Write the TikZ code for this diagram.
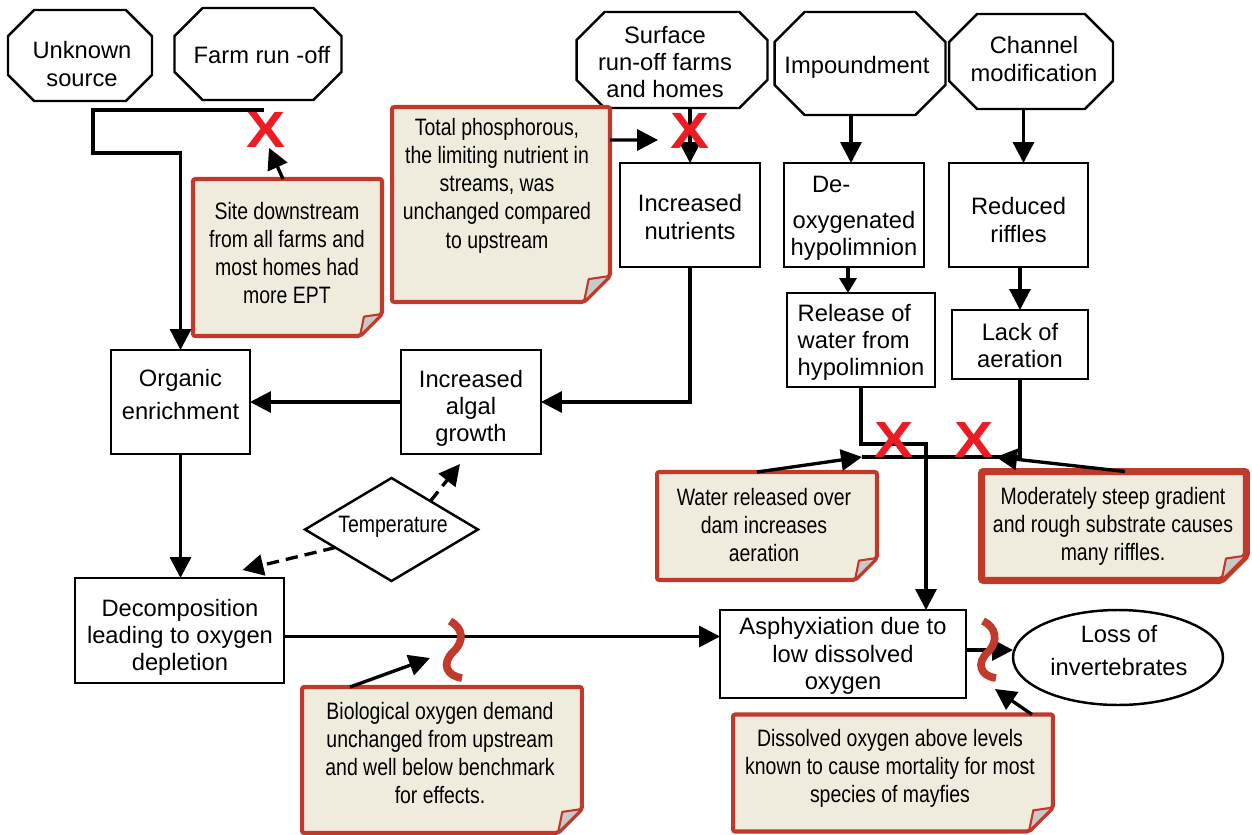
\documentclass[tikz,border=0pt]{standalone}
\usepackage{fontspec}
\setmainfont{Liberation Sans}
\newfontfamily\narrowfont{Liberation Sans}[FakeStretch=0.82]
\usetikzlibrary{arrows.meta,shapes.geometric,calc}
\definecolor{notefill}{HTML}{F0ECDD}
\definecolor{noteline}{HTML}{C0392B}
\definecolor{foldgray}{HTML}{C8C8C8}
\definecolor{xred}{HTML}{ED1C24}
\definecolor{sqred}{HTML}{C23A2C}
\pgfdeclarelayer{front}
\pgfsetlayers{main,front}
\newcommand\mainsize{\fontsize{13.5}{15.5}\selectfont}
\newcommand\notesize{\narrowfont\fontsize{13.5}{16.1}\selectfont}
% octagon drawn round a frame node: #1 node, #2 corner cut
\newcommand\octbox[2]{%
  \draw[line width=1.4pt, line join=miter]
    ([xshift=#2]#1.north west) -- ([xshift=-#2]#1.north east)
    -- ([yshift=-#2]#1.north east) -- ([yshift=#2]#1.south east)
    -- ([xshift=-#2]#1.south east) -- ([xshift=#2]#1.south west)
    -- ([yshift=#2]#1.south west) -- ([yshift=-#2]#1.north west) -- cycle;}
% sticky note with a folded corner: #1 node, #2 fold size, #3 border width
\newcommand\notebox[3]{%
  \draw[draw=noteline, fill=notefill, line width=#3, rounded corners=1.2pt]
    (#1.north west) -- (#1.north east) -- ([yshift=#2]#1.south east)
    -- ([xshift=-#2]#1.south east) -- (#1.south west) -- cycle;
  \draw[draw=noteline, fill=foldgray, line width=1.2pt, line join=round]
    ([xshift=-#2]#1.south east) -- ([xshift=-0.82*#2, yshift=0.88*#2]#1.south east)
    -- ([yshift=#2]#1.south east) -- cycle;}
\tikzset{
  frame/.style={inner sep=0pt, outer sep=0pt},
  box/.style={draw, line width=1.4pt, inner sep=0pt, outer sep=0pt},
  lbl/.style={inner sep=0pt, align=center, font=\mainsize},
  notetext/.style={inner sep=0pt, align=center, font=\notesize},
  xmark/.style={inner sep=0pt, text=xred, font=\fontsize{29}{29}\selectfont\bfseries},
  conn/.style={line width=1.9pt},
  arr/.style={-{Triangle[length=0.42cm,width=0.42cm]}},
  sarr/.style={-{Triangle[length=0.3cm,width=0.34cm]}},
  dashline/.style={dash pattern=on 7pt off 4pt},
  squig/.style={draw=sqred, line width=4.4pt, line cap=butt}
}
\begin{document}
\begin{tikzpicture}[x=0.02cm, y=-0.02cm]
\useasboundingbox (0,0) rectangle (1252,835);

% ---------- sources (octagons)
\node[frame, minimum width=2.88cm, minimum height=1.82cm] (unk) at (80,55.5) {};
\node[frame, minimum width=3.34cm, minimum height=1.84cm] (farm) at (258,54) {};
\node[frame, minimum width=3.82cm, minimum height=1.92cm] (surf) at (672,60) {};
\node[frame, minimum width=3.42cm, minimum height=2.06cm] (imp) at (860,63.5) {};
\node[frame, minimum width=3.28cm, minimum height=1.90cm] (chan) at (1031,61.5) {};
\octbox{unk}{0.52cm}
\octbox{farm}{0.56cm}
\octbox{surf}{0.56cm}
\octbox{imp}{0.6cm}
\octbox{chan}{0.56cm}
\node[lbl] (unk-t) at (82,64) {Unknown\\source};
\node[lbl] (farm-t) at (262,55) {Farm run -off};
\node[lbl] (surf-t) at (665,62) {Surface\\run-off farms\\and homes};
\node[lbl] (imp-t) at (857,67) {Impoundment};
\node[lbl] (chan-t) at (1034,59) {Channel\\modification};

% ---------- process boxes
\node[box, minimum width=2.80cm, minimum height=2.08cm] (nutr) at (690,215) {};
\node[box, minimum width=2.80cm, minimum height=2.08cm] (deox) at (854,215) {};
\node[box, minimum width=2.78cm, minimum height=2.08cm] (riff) at (1018.5,215) {};
\node[box, minimum width=2.96cm, minimum height=1.88cm] (rel) at (861,340) {};
\node[box, minimum width=2.72cm, minimum height=1.38cm] (lack) at (1020,344.5) {};
\node[box, minimum width=2.78cm, minimum height=2.08cm] (org) at (180.5,402) {};
\node[box, minimum width=2.80cm, minimum height=2.08cm] (alg) at (471,402) {};
\node[box, minimum width=4.18cm, minimum height=2.10cm] (dec) at (179.5,630.5) {};
\node[box, minimum width=4.92cm, minimum height=1.76cm] (asph) at (843,654) {};
\node[box, ellipse, minimum width=4.2cm, minimum height=1.9cm] (loss) at (1118,657.5) {};

\node[lbl] (nutr-t) at (690,217) {Increased\\nutrients};
\node[lbl] (deox-t) at (854,218.5) {De-\hspace*{26pt}\\[5pt]oxygenated\\hypolimnion};
\node[lbl] (riff-t) at (1018.5,220) {Reduced\\riffles};
\node[lbl, align=left] (rel-t) at (861,342.5) {Release of\\water from\\hypolimnion};
\node[lbl] (lack-t) at (1020,345.5) {Lack of\\aeration};
\node[lbl] (org-t) at (180.5,394.5) {Organic\\[3pt]enrichment};
\node[lbl] (alg-t) at (471,408.5) {Increased\\algal\\growth};
\node[lbl] (dec-t) at (180,637.5) {Decomposition\\leading to oxygen\\depletion};
\node[lbl] (asph-t) at (843,656) {Asphyxiation due to\\low dissolved\\oxygen};
\node[lbl] (loss-t) at (1119,650.5) {Loss of\\[3pt]invertebrates};

% temperature diamond
\node[frame, minimum width=3.46cm, minimum height=2.06cm] (temp) at (391.5,529.5) {};
\draw[line width=1.4pt] (temp.north) -- (temp.east) -- (temp.south) -- (temp.west) -- cycle;
\node[notetext] (temp-t) at (393,527) {Temperature};

% ---------- notes
\node[frame, minimum width=3.78cm, minimum height=3.14cm] (nsite) at (287.5,257.5) {};
\node[frame, minimum width=4.36cm, minimum height=3.90cm] (nphos) at (501,204.5) {};
\node[frame, minimum width=4.40cm, minimum height=2.16cm] (nwater) at (767,526) {};
\node[frame, minimum width=5.30cm, minimum height=2.18cm] (nmod) at (1114,526) {};
\node[frame, minimum width=5.60cm, minimum height=2.92cm] (nbod) at (442,760) {};
\node[frame, minimum width=6.40cm, minimum height=2.34cm] (ndo) at (893,773) {};
\notebox{nsite}{0.44cm}{2.3pt}
\notebox{nphos}{0.52cm}{2.3pt}
\notebox{nwater}{0.44cm}{2.3pt}
\notebox{nmod}{0.5cm}{4pt}
\notebox{nbod}{0.48cm}{2.3pt}
\notebox{ndo}{0.48cm}{2.3pt}
\node[notetext] (nsite-t) at (287,253) {Site downstream\\from all farms and\\most homes had\\more EPT};
\node[notetext] (nphos-t) at (497,185.5) {Total phosphorous,\\the limiting nutrient in\\streams, was\\unchanged compared\\to upstream};
\node[notetext] (nwater-t) at (764,525) {Water released over\\dam increases\\aeration};
\node[notetext] (nmod-t) at (1113,526.5) {Moderately steep gradient\\and rough substrate causes\\many riffles.};
\node[notetext] (nbod-t) at (440,753) {Biological oxygen demand\\unchanged from upstream\\and well below benchmark\\for effects.};
\node[notetext] (ndo-t) at (890,768.5) {Dissolved oxygen above levels\\known to cause mortality for most\\species of mayfies};

% ---------- refuted links (red crosses, on top)
\begin{pgfonlayer}{front}
\node[xmark] (xfarm) at (266,130) {\scalebox{1.15}[1]{X}};
\node[xmark] (xsurf) at (690,131) {\scalebox{1.15}[1]{X}};
\node[xmark] (xrel) at (894,440) {\scalebox{1.15}[1]{X}};
\node[xmark] (xlack) at (974,440) {\scalebox{1.15}[1]{X}};
\end{pgfonlayer}

% ---------- junction points
\coordinate (jfarm) at (264,110);
\coordinate (junk) at (93,110);
\coordinate (jbend) at (93,153);
\coordinate (jrel) at (926,444);
\coordinate (jlow) at (862,457);
\coordinate (jmod) at (996,457);
\coordinate (bodtip) at (430,658);
\coordinate (dotip) at (995,689);

% ---------- connectors
\draw[conn, arr] (jfarm) -- (junk) -- (jbend) -| (org.north);
\draw[conn, arr] ([xshift=-0.09cm]nsite.north) -- ([xshift=0.06cm]xfarm.south);
\draw[conn, arr] ([yshift=-0.66cm]nphos.north east) -- ([xshift=-0.24cm,yshift=-0.18cm]xsurf.west);
\draw[conn, arr] (nutr.north |- surf.south) -- (nutr.north);
\draw[conn, arr] (nutr.south) |- (alg.east);
\draw[conn, arr] (alg.west) -- (org.east);
\draw[conn, arr] (org.south) -- (org.south |- dec.north);
\draw[conn, arr, dashline] ($(temp.north)!0.45!(temp.east)$) -- ([xshift=-0.22cm,yshift=-0.2cm]alg.south);
\draw[conn, arr, dashline] ($(temp.west)!0.35!(temp.south)$) -- ([xshift=1.26cm,yshift=0.16cm]dec.north);
\draw[conn, arr] ([yshift=-0.12cm]dec.east) -- ([yshift=-0.12cm]dec.east -| asph.west);

\coordinate (impx) at ([xshift=-0.06cm]deox.north);
\draw[conn, arr] (impx |- imp.south) -- (impx);
\coordinate (chanx) at ([xshift=0.1cm]riff.north);
\draw[conn, arr] (chanx |- chan.south) -- (chanx);
\coordinate (deoxx) at ([xshift=-0.12cm]deox.south);
\draw[conn, sarr] (deoxx) -- (deoxx |- rel.north);
\draw[conn, arr] (lack.north |- riff.south) -- (lack.north);

\draw[conn, arr] (rel.south) |- (jrel) -- (jrel |- asph.north);
\draw[conn] (lack.south) |- (jlow);
\draw[conn, arr] ([xshift=-0.2cm]nwater.north) -- (jlow);
\draw[conn, arr] ([xshift=0.22cm]nmod.north) -- (jmod);

\draw[conn, arr] ([yshift=0.08cm]asph.east) -- ([yshift=0.08cm]asph.east -| loss.west);
\draw[conn, arr] ([xshift=-1.84cm]nbod.north) -- (bodtip);
\draw[conn, arr] ([xshift=-0.42cm]ndo.north east) -- (dotip);

% ---------- unresolved links (red hooks)
\draw[squig] (450,621) .. controls (463,628) and (465,641) .. (453,652)
  .. controls (441,664) and (447,676) .. (462,678);
\draw[squig] (983,621) .. controls (996,627) and (999,641) .. (988,652)
  .. controls (976,663) and (980,676) .. (996,678);
\end{tikzpicture}
\end{document}
